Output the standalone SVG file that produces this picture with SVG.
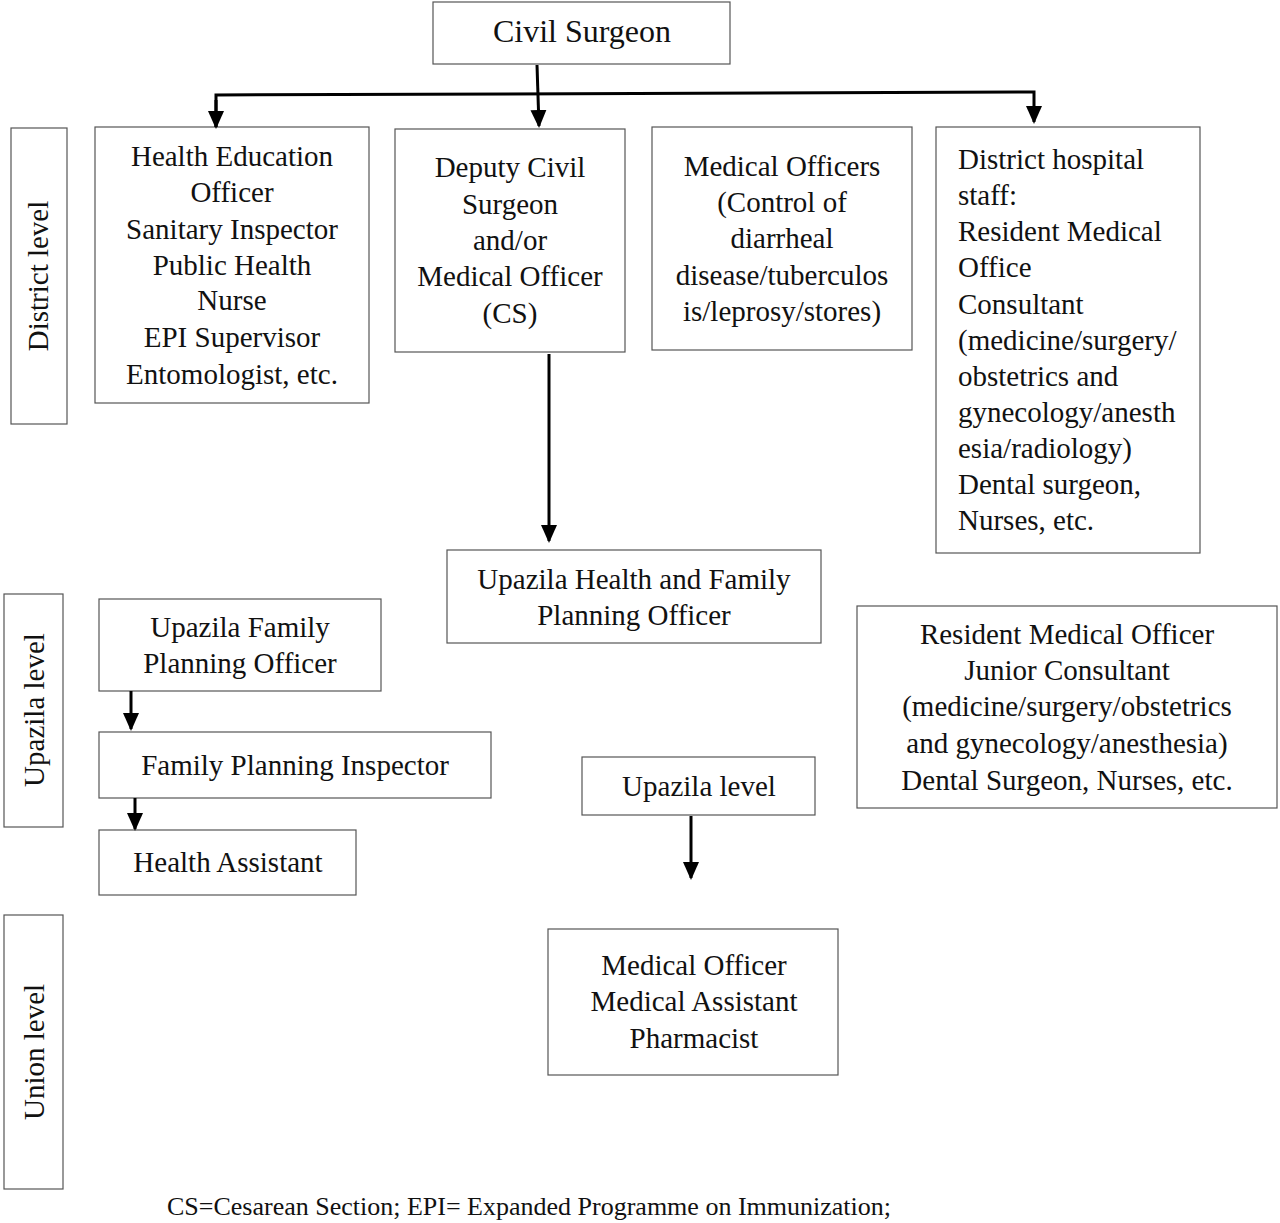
<svg xmlns="http://www.w3.org/2000/svg" width="1280" height="1223" viewBox="0 0 1280 1223">
<style>
.box{fill:#fff;stroke:#555;stroke-width:1.2}
text{font-family:"Liberation Serif","Times New Roman",serif;font-size:29px;fill:#111}
.c{text-anchor:middle}
.cap{font-size:26px}
.ln{stroke:#000;stroke-width:3;fill:none}
</style>
<defs>
<marker id="ah" markerUnits="userSpaceOnUse" markerWidth="18" markerHeight="22" refX="16" refY="8" orient="auto" viewBox="0 0 18 16">
<path d="M0,0 L18,8 L0,16 Z" fill="#000"/>
</marker>
</defs>
<rect width="1280" height="1223" fill="#fff"/>
<g id="civil-surgeon"><rect class="box" x="433" y="2" width="297" height="62"/><text class="c" x="582" y="42" style="font-size:32px">Civil Surgeon</text></g>
<g id="district-level"><rect class="box" x="11" y="128" width="56" height="296"/><text class="c" transform="translate(48,276) rotate(-90)">District level</text></g>
<g id="upazila-level-side"><rect class="box" x="4" y="594" width="59" height="233"/><text class="c" transform="translate(44,710) rotate(-90)">Upazila level</text></g>
<g id="union-level"><rect class="box" x="4" y="915" width="59" height="274"/><text class="c" transform="translate(44,1052) rotate(-90)">Union level</text></g>
<g id="health-education"><rect class="box" x="95" y="127" width="274" height="276"/>
<text class="c" x="232" y="166">Health Education</text>
<text class="c" x="232" y="202">Officer</text>
<text class="c" x="232" y="239">Sanitary Inspector</text>
<text class="c" x="232" y="275">Public Health</text>
<text class="c" x="232" y="310">Nurse</text>
<text class="c" x="232" y="347">EPI Supervisor</text>
<text class="c" x="232" y="384">Entomologist, etc.</text></g>
<g id="deputy-civil-surgeon"><rect class="box" x="395" y="129" width="230" height="223"/>
<text class="c" x="510" y="177">Deputy Civil</text>
<text class="c" x="510" y="214">Surgeon</text>
<text class="c" x="510" y="250">and/or</text>
<text class="c" x="510" y="286">Medical Officer</text>
<text class="c" x="510" y="323">(CS)</text></g>
<g id="medical-officers"><rect class="box" x="652" y="127" width="260" height="223"/>
<text class="c" x="782" y="176">Medical Officers</text>
<text class="c" x="782" y="212">(Control of</text>
<text class="c" x="782" y="248">diarrheal</text>
<text class="c" x="782" y="285">disease/tuberculos</text>
<text class="c" x="782" y="321">is/leprosy/stores)</text></g>
<g id="district-hospital"><rect class="box" x="936" y="127" width="264" height="426"/>
<text x="958" y="169">District hospital</text>
<text x="958" y="205">staff:</text>
<text x="958" y="241">Resident Medical</text>
<text x="958" y="277">Office</text>
<text x="958" y="314">Consultant</text>
<text x="958" y="350">(medicine/surgery/</text>
<text x="958" y="386">obstetrics and</text>
<text x="958" y="422">gynecology/anesth</text>
<text x="958" y="458">esia/radiology)</text>
<text x="958" y="494">Dental surgeon,</text>
<text x="958" y="530">Nurses, etc.</text></g>
<g id="uhfpo"><rect class="box" x="447" y="550" width="374" height="93"/>
<text class="c" x="634" y="589">Upazila Health and Family</text>
<text class="c" x="634" y="625">Planning Officer</text></g>
<g id="resident-medical-officer"><rect class="box" x="857" y="606" width="420" height="202"/>
<text class="c" x="1067" y="644">Resident Medical Officer</text>
<text class="c" x="1067" y="680">Junior Consultant</text>
<text class="c" x="1067" y="716">(medicine/surgery/obstetrics</text>
<text class="c" x="1067" y="753">and gynecology/anesthesia)</text>
<text class="c" x="1067" y="790">Dental Surgeon, Nurses, etc.</text></g>
<g id="ufpo"><rect class="box" x="99" y="599" width="282" height="92"/>
<text class="c" x="240" y="637">Upazila Family</text>
<text class="c" x="240" y="673">Planning Officer</text></g>
<g id="fpi"><rect class="box" x="99" y="732" width="392" height="66"/>
<text class="c" x="295" y="775">Family Planning Inspector</text></g>
<g id="health-assistant"><rect class="box" x="99" y="830" width="257" height="65"/>
<text class="c" x="228" y="872">Health Assistant</text></g>
<g id="upazila-level-mid"><rect class="box" x="582" y="757" width="233" height="58"/>
<text class="c" x="699" y="796">Upazila level</text></g>
<g id="union-staff"><rect class="box" x="548" y="929" width="290" height="146"/>
<text class="c" x="694" y="975">Medical Officer</text>
<text class="c" x="694" y="1011">Medical Assistant</text>
<text class="c" x="694" y="1048">Pharmacist</text></g>
<g id="connectors">
<line class="ln" x1="537" y1="65" x2="539" y2="126" marker-end="url(#ah)"/>
<polyline class="ln" points="216,127 216,95 1034,92 1034,122" marker-end="url(#ah)"/>
<line class="ln" x1="216" y1="100" x2="216" y2="127" marker-end="url(#ah)"/>
<line class="ln" x1="549" y1="354" x2="549" y2="541" marker-end="url(#ah)"/>
<line class="ln" x1="691" y1="816" x2="691" y2="878" marker-end="url(#ah)"/>
<line class="ln" x1="131" y1="691" x2="131" y2="729" marker-end="url(#ah)"/>
<line class="ln" x1="135" y1="798" x2="135" y2="829" marker-end="url(#ah)"/>
</g>
<text class="cap" x="167" y="1215">CS=Cesarean Section; EPI= Expanded Programme on Immunization;</text>
</svg>
